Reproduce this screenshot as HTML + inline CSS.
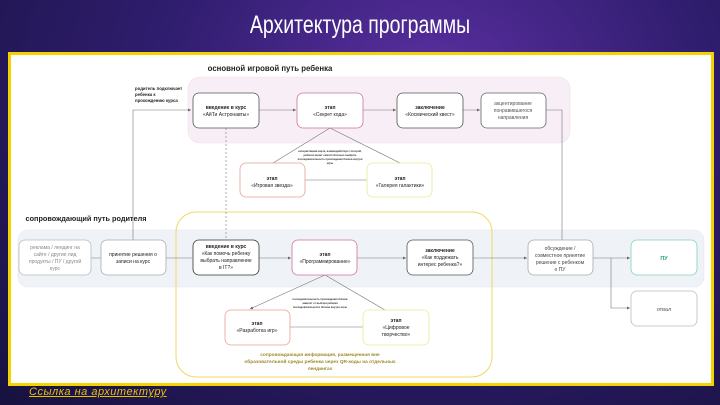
<!DOCTYPE html>
<html><head><meta charset="utf-8"><style>
html,body{margin:0;padding:0}
body{width:720px;height:405px;overflow:hidden;background:radial-gradient(ellipse at 60% 20%,#5a2fa0 0%,#2f1d6e 45%,#17123f 100%);font-family:"Liberation Sans","DejaVu Sans",sans-serif;position:relative}
.title{position:absolute;left:0;width:720px;top:11px;text-align:center;color:#fff;font-family:"Liberation Sans Narrow","Liberation Sans",sans-serif;font-size:25px;transform:scaleX(.78);letter-spacing:0}
.panel{position:absolute;left:8px;top:52px;width:700px;height:328px;background:#fff;border:3px solid #f5d300}
.link{position:absolute;left:29px;top:386px;color:#e8c400;font-style:italic;font-size:11px;text-decoration:underline;letter-spacing:.5px}
svg{position:absolute;left:0;top:0}
.b{font-weight:bold}
</style></head><body>
<div class="title">Архитектура программы</div>
<div class="panel"></div>
<div class="link">Ссылка на архитектуру</div>
<svg width="720" height="405" viewBox="0 0 720 405" font-family="Liberation Sans, DejaVu Sans, sans-serif" text-anchor="middle">
<defs><marker id="a" markerWidth="6" markerHeight="6" refX="5" refY="3" orient="auto"><path d="M0,0.5 L5,3 L0,5.5z" fill="#666"/></marker></defs>
<rect x="188" y="77" width="382" height="66" rx="12" fill="#f8eef5" stroke="#efdfe9" stroke-width="0.6"/>
<rect x="18" y="230" width="686" height="57" rx="10" fill="#eff3f8" stroke="#e1e7ef" stroke-width="0.6"/>
<rect x="176" y="212" width="316" height="165" rx="20" fill="none" stroke="#f0d860" stroke-width="1"/>
<text x="270" y="71" font-size="7.8" font-weight="bold" fill="#222">основной игровой путь ребенка</text>
<text x="86" y="221" font-size="7.3" font-weight="bold" fill="#222">сопровождающий путь родителя</text>
<g font-size="4.3" font-weight="bold" fill="#222" text-anchor="start"><text x="135" y="90">родитель подключает</text><text x="135" y="96">ребенка к</text><text x="135" y="102">прохождению курса</text></g>
<g stroke="#777" stroke-width="0.6" fill="none">
<path d="M133,240 V110 H191" marker-end="url(#a)"/>
<path d="M259,110 H296" marker-end="url(#a)"/>
<path d="M363,110 H396" marker-end="url(#a)"/>
<path d="M463,110 H480" marker-end="url(#a)"/>
<path d="M546,110 H562 V240" />
<path d="M226,128 V240" stroke-dasharray="2,2"/>
<path d="M330,128 L273,163 M330,128 L400,163 M305,180 H367"/>
<path d="M91,258 H101 M166,258 H192" />
<path d="M259,258 H291" marker-end="url(#a)"/>
<path d="M357,258 H406" marker-end="url(#a)"/>
<path d="M473,258 H527" marker-end="url(#a)"/>
<path d="M593,258 H630" marker-end="url(#a)"/>
<path d="M611,258 V308 H630" marker-end="url(#a)"/>
<path d="M325,275 L250,309" marker-end="url(#a)"/>
<path d="M325,275 L385,310 M290,327 H363"/>
</g>
<g stroke-width="0.8" fill="#fff">
<rect x="193" y="93" width="66" height="35" rx="6" stroke="#555"/>
<rect x="297" y="93" width="66" height="35" rx="6" stroke="#d0709a"/>
<rect x="397" y="93" width="66" height="35" rx="6" stroke="#555"/>
<rect x="481" y="93" width="65" height="35" rx="6" stroke="#666"/>
<rect x="240" y="163" width="65" height="34" rx="6" stroke="#e8a090"/>
<rect x="367" y="163" width="65" height="34" rx="6" stroke="#ecea90"/>
<rect x="19" y="240" width="72" height="35" rx="6" stroke="#bbb"/>
<rect x="101" y="240" width="65" height="35" rx="6" stroke="#aaa"/>
<rect x="193" y="240" width="66" height="35" rx="6" stroke="#333"/>
<rect x="292" y="240" width="65" height="35" rx="6" stroke="#d0709a"/>
<rect x="407" y="240" width="66" height="35" rx="6" stroke="#555"/>
<rect x="528" y="240" width="65" height="35" rx="6" stroke="#aaa"/>
<rect x="631" y="240" width="66" height="35" rx="6" stroke="#80d0b8"/>
<rect x="631" y="291" width="66" height="35" rx="6" stroke="#bbb"/>
<rect x="225" y="310" width="65" height="35" rx="6" stroke="#e8a090"/>
<rect x="363" y="310" width="66" height="35" rx="6" stroke="#ecea90"/>
</g>
<g font-size="5" fill="#222">
<text x="226" y="109" class="b">введение в курс</text><text x="226" y="116">«АйТи Астронавты»</text>
<text x="330" y="109" class="b">этап</text><text x="330" y="116">«Секрет кода»</text>
<text x="430" y="109" class="b">заключение</text><text x="430" y="116">«Космический квест»</text>
<g fill="#555"><text x="513" y="105">акцентирование</text><text x="513" y="112">понравившегося</text><text x="513" y="119">направления</text></g>
<text x="272" y="180" class="b">этап</text><text x="272" y="187">«Игровая звезда»</text>
<text x="400" y="180" class="b">этап</text><text x="400" y="187">«Галерея галактики»</text>
<g fill="#888"><text x="55" y="249">реклама / лендинг на</text><text x="55" y="256">сайте / другие лид</text><text x="55" y="263">продукты / ПУ / другой</text><text x="55" y="270">курс</text></g>
<text x="133" y="256">принятие решения о</text><text x="133" y="263">записи на курс</text>
<text x="226" y="248" class="b">введение в курс</text><text x="226" y="255">«Как помочь ребенку</text><text x="226" y="262">выбрать направление</text><text x="226" y="269">в IT?»</text>
<text x="325" y="256" class="b">этап</text><text x="325" y="263">«Программирование»</text>
<text x="440" y="252" class="b">заключение</text><text x="440" y="259">«Как поддежать</text><text x="440" y="266">интерес ребенка?»</text>
<g fill="#444"><text x="560" y="250">обсуждение /</text><text x="560" y="257">совместное принятие</text><text x="560" y="264">решение с ребенком</text><text x="560" y="271">о ПУ</text></g>
<text x="664" y="260" class="b" fill="#2a9d80" font-size="5.5">ПУ</text>
<text x="664" y="311" fill="#555" font-size="5.5">отвал</text>
<text x="257" y="325" class="b">этап</text><text x="257" y="332">«Разработка игр»</text>
<text x="396" y="322" class="b">этап</text><text x="396" y="329">«Цифровое</text><text x="396" y="336">творчество»</text>
</g>
<g font-size="2.6" fill="#333" font-weight="bold"><text x="330" y="152">интерактивная карта, взаимодействуя с которой,</text><text x="330" y="156">ребенок может самостоятельно выбрать</text><text x="330" y="160">последовательность прохождения блоков внутри</text><text x="330" y="164">игры</text>
<text x="320" y="300">последовательность прохождения блоков</text><text x="320" y="304">зависит от выбора ребенка</text><text x="320" y="308">последовательности блоков внутри игры</text></g>
<g font-size="4.8" font-weight="bold" fill="#a08a2a"><text x="320" y="356">сопровождающая информация, размещенная вне</text><text x="320" y="363">образовательной среды ребенка через QR-коды на отдельных</text><text x="320" y="370">лендингах</text></g>
</svg>
</body></html>
